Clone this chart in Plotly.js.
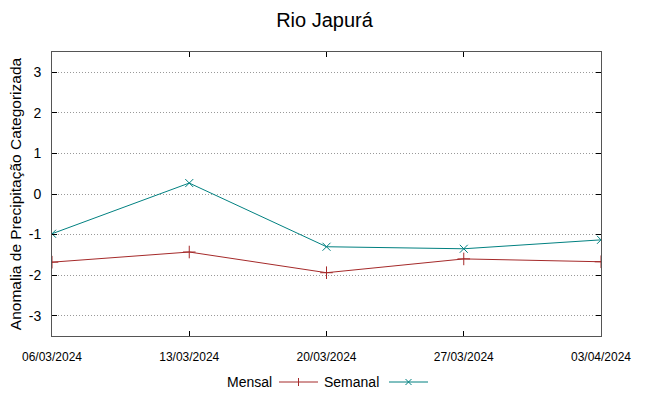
<!DOCTYPE html>
<html>
<head>
<meta charset="utf-8">
<script src="https://cdn.plot.ly/plotly-3.0.1.min.js"></script>
<style>html,body{margin:0;padding:0;background:#fff;}#chart{width:649px;height:396px;}</style>
</head>
<body>
<div id="chart"></div>
<script>
const dates = ["2024-03-06", "2024-03-13", "2024-03-20", "2024-03-27", "2024-04-03"];
const tickLabels = ["06/03/2024", "13/03/2024", "20/03/2024", "27/03/2024", "03/04/2024"];
const mensal = [-1.68, -1.43, -1.94, -1.60, -1.67];
const semanal = [-0.98, 0.27, -1.30, -1.35, -1.13];
const seriesNames = ["Mensal", "Semanal"];
const colors = ["#a52a2a", "#008080"];

const font = "Liberation Sans, Arial, sans-serif";

const traces = [
  {x: dates, y: mensal, name: seriesNames[0], mode: "lines+markers", type: "scatter",
   line: {color: colors[0], width: 1}, marker: {symbol: "cross-thin-open", size: 9, line: {color: colors[0], width: 1}}},
  {x: dates, y: semanal, name: seriesNames[1], mode: "lines+markers", type: "scatter",
   line: {color: colors[1], width: 1}, marker: {symbol: "x-thin-open", size: 8, line: {color: colors[1], width: 1}}}
];

// custom gnuplot-style legend (text then sample)
const W = 549, H = 284;
function px(x){return (x-52)/W;}
function py(y){return (336-y)/H;}
const legendY = 382;
const shapes = [];
const annotations = [];
const leg = [
  {text: seriesNames[0], textRight: 274, l0: 279, l1: 318, color: colors[0], sym: "+"},
  {text: seriesNames[1], textRight: 381, l0: 389, l1: 428, color: colors[1], sym: "x"}
];
leg.forEach(o => {
  annotations.push({xref: "paper", yref: "paper", x: px(o.textRight), y: py(legendY), xanchor: "right", yanchor: "middle",
    text: o.text, showarrow: false, font: {family: font, size: 14, color: "#000"}});
  shapes.push({type: "line", xref: "paper", yref: "paper", x0: px(o.l0), x1: px(o.l1), y0: py(legendY), y1: py(legendY),
    line: {color: o.color, width: 1}});
  const cx = (o.l0 + o.l1) / 2, cy = legendY, s = 4;
  if (o.sym === "+") {
    shapes.push({type: "line", xref: "paper", yref: "paper", x0: px(cx), x1: px(cx), y0: py(cy - s), y1: py(cy + s), line: {color: o.color, width: 1}});
  } else {
    shapes.push({type: "line", xref: "paper", yref: "paper", x0: px(cx - 3), x1: px(cx + 3), y0: py(cy - 3), y1: py(cy + 3), line: {color: o.color, width: 1}});
    shapes.push({type: "line", xref: "paper", yref: "paper", x0: px(cx - 3), x1: px(cx + 3), y0: py(cy + 3), y1: py(cy - 3), line: {color: o.color, width: 1}});
  }
});

const layout = {
  width: 649, height: 396,
  margin: {l: 52, r: 48, t: 52, b: 60},
  paper_bgcolor: "#fff", plot_bgcolor: "#fff",
  showlegend: false,
  title: {text: "Rio Japurá", font: {family: font, size: 20, color: "#000"}, x: 0.5, xanchor: "center",
          yref: "container", y: 1 - 20/396, yanchor: "middle"},
  xaxis: {type: "date", range: [dates[0], dates[dates.length-1]], tickvals: dates, ticktext: tickLabels,
          showgrid: false, zeroline: false, showline: true, mirror: "ticks", linecolor: "#555", linewidth: 1,
          ticks: "inside", ticklen: 5, tickcolor: "#000", ticklabelstandoff: 10,
          tickfont: {family: font, size: 12, color: "#000"}},
  yaxis: {range: [-3.5, 3.5], tickvals: [-3, -2, -1, 0, 1, 2, 3], ticktext: ["-3", "-2", "-1", "0", "1", "2", "3"],
          showgrid: true, gridcolor: "#999", griddash: "1px,2px", gridwidth: 1,
          zeroline: false, showline: true, mirror: "ticks", linecolor: "#555", linewidth: 1,
          ticks: "inside", ticklen: 5, tickcolor: "#000", ticklabelstandoff: 7,
          tickfont: {family: font, size: 14, color: "#000"},
          title: {text: "Anomalia de Precipitação Categorizada", font: {family: font, size: 15.5, color: "#000"}, standoff: 3}},
  shapes: shapes,
  annotations: annotations
};

Plotly.newPlot("chart", traces, layout, {displayModeBar: false, staticPlot: true});
</script>
</body>
</html>
